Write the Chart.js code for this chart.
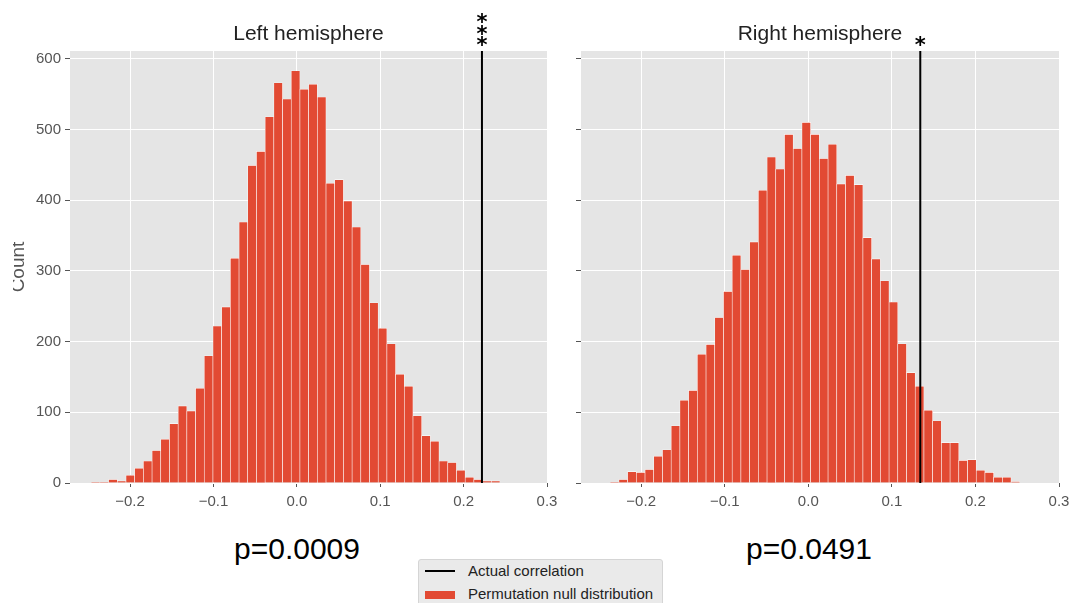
<!DOCTYPE html>
<html>
<head>
<meta charset="utf-8">
<script src="https://cdn.jsdelivr.net/npm/chart.js@4.4.1/dist/chart.umd.min.js"></script>
<style>
  body { margin: 0; width: 1070px; height: 603px; overflow: hidden; position: relative; background: #fff;
         font-family: "Liberation Sans", Arial, sans-serif; }
  #leftWrap { position: absolute; left: 13px; top: 0; width: 547px; height: 513px; overflow: hidden; }
  #leftChart { position: absolute; left: -13px; top: 0; }
  #rightChart { position: absolute; left: 560px; top: 0; }
  .pval { position: absolute; top: 533.5px; font-size: 30px; line-height: 30px; color: #000;
          transform: translateX(-50%); white-space: nowrap; }
  #legend { position: absolute; left: 418px; top: 559px; width: 243px; height: 52px; background: #eaeaea;
            border: 1px solid #d5d5d5; border-radius: 3px; font-size: 15px; line-height: 18px; color: #222; }
  #legend .item { position: absolute; white-space: nowrap; }
  #legend .line { position: absolute; left: 6px; top: 10px; width: 30px; height: 2px; background: #000; }
  #legend .patch { position: absolute; left: 6px; top: 31px; width: 30px; height: 8px; background: #E24A33; }
</style>
</head>
<body>
<div id="leftWrap"><canvas id="leftChart" width="560" height="513"></canvas></div>
<canvas id="rightChart" width="510" height="513"></canvas>

<div class="pval" style="left:297px">p=0.0009</div>
<div class="pval" style="left:809px">p=0.0491</div>

<div id="legend">
  <div class="line"></div>
  <div class="item" style="left:49px;top:1.5px">Actual correlation</div>
  <div class="patch"></div>
  <div class="item" style="left:49px;top:25px">Permutation null distribution</div>
</div>

<script>
// histogram counts (bins of equal width)
const binWidth = 0.01043;
const leftBinStart = -0.2466;
const leftCounts = [1, 1, 5, 3, 11, 21, 31, 46, 62, 84, 109, 102, 134, 180, 222, 249, 318, 369, 449, 469,
  518, 566, 543, 583, 557, 564, 546, 424, 429, 399, 362, 309, 255, 219, 197, 154, 137, 95, 67, 59,
  31, 29, 18, 8, 5, 3, 3];
const rightBinStart = -0.2371;
const rightCounts = [1, 5, 16, 15, 19, 38, 47, 81, 117, 131, 182, 196, 234, 271, 322, 302, 341, 414, 461, 444,
  493, 473, 510, 493, 459, 479, 423, 435, 422, 347, 317, 286, 256, 197, 156, 137, 103, 88, 57, 57,
  32, 33, 18, 15, 8, 8, 2];

const leftActual = 0.222;
const rightActual = 0.134;

const xTicks = [-0.2, -0.1, 0.0, 0.1, 0.2, 0.3];
const yTicks = [0, 100, 200, 300, 400, 500, 600];
const xMin = -0.272, xMax = 0.3;
const yMax = 611;

Chart.defaults.font.family = '"Liberation Sans", Arial, sans-serif';

const plotBg = {
  id: 'plotBg',
  beforeDraw(chart) {
    const { ctx, chartArea: a } = chart;
    ctx.save();
    ctx.fillStyle = '#E5E5E5';
    ctx.fillRect(a.left, a.top, a.right - a.left, a.bottom - a.top);
    ctx.restore();
  }
};

// significance stars above the actual-correlation line
const stars = {
  id: 'stars',
  afterDraw(chart, args, opts) {
    const { ctx, chartArea, scales } = chart;
    const x = scales.x.getPixelForValue(opts.value);
    ctx.save();
    ctx.font = 'bold 21px "DejaVu Sans"';
    ctx.fillStyle = '#000';
    ctx.textAlign = 'center';
    const m = ctx.measureText('*');
    const shift = (m.actualBoundingBoxAscent - m.actualBoundingBoxDescent) / 2;
    opts.offsets.forEach(dy => ctx.fillText('*', x, chartArea.top + dy + shift));
    ctx.restore();
  }
};

function fmtX(v) {
  const s = Math.abs(v).toFixed(1);
  return v < -1e-9 ? '\u2212' + s : s;
}

function makeChart(id, counts, binStart, actual, title, starOffsets, showY, yWidth, padRight) {
  const bars = counts.map((c, i) => ({ x: binStart + (i + 0.5) * binWidth, y: c }));
  return new Chart(document.getElementById(id), {
    type: 'bar',
    data: {
      datasets: [
        {
          type: 'line',
          label: 'Actual correlation',
          data: [{ x: actual, y: 0 }, { x: actual, y: yMax }],
          borderColor: '#000',
          borderWidth: 2,
          pointRadius: 0,
          order: 0
        },
        {
          type: 'bar',
          label: 'Permutation null distribution',
          data: bars,
          backgroundColor: '#E24A33',
          borderColor: '#fff',
          borderWidth: 0.6,
          barPercentage: 1,
          categoryPercentage: 1,
          order: 1
        }
      ]
    },
    options: {
      responsive: false,
      animation: false,
      devicePixelRatio: 1,
      layout: { padding: { left: 0, right: padRight, top: 0, bottom: 0 } },
      plugins: {
        legend: { display: false },
        tooltip: { enabled: false },
        title: {
          display: true,
          text: title,
          color: '#222',
          fullSize: false,
          font: { size: 21, weight: 'normal' },
          padding: { top: 21.5, bottom: 4.3 }
        },
        stars: { value: actual, offsets: starOffsets }
      },
      scales: {
        x: {
          type: 'linear',
          min: xMin,
          max: xMax,
          offset: false,
          afterBuildTicks: s => { s.ticks = xTicks.map(v => ({ value: v })); },
          afterFit: s => { s.height = 30; s.paddingLeft = 0; s.paddingRight = 0; },
          grid: { offset: false, color: '#fff', lineWidth: 1, tickColor: '#555', tickLength: 4 },
          border: { display: false },
          ticks: { color: '#555', font: { size: 15 }, padding: 6, maxRotation: 0, autoSkip: false, callback: fmtX }
        },
        y: {
          min: 0,
          max: yMax,
          afterBuildTicks: s => { s.ticks = yTicks.map(v => ({ value: v })); },
          afterFit: s => { s.width = yWidth; },
          grid: { color: '#fff', lineWidth: 1, tickColor: '#555', tickLength: 5 },
          border: { display: false },
          ticks: { color: '#555', font: { size: 15 }, padding: 4, autoSkip: false,
                   callback: showY ? (v => String(v)) : (() => '') },
          title: {
            display: showY,
            text: 'Count',
            color: '#555',
            font: { size: 19 },
            padding: { top: 7, bottom: 0 }
          }
        }
      }
    },
    plugins: [plotBg, stars]
  });
}

makeChart('leftChart', leftCounts, leftBinStart, leftActual, 'Left hemisphere', [-33, -21.5, -10], true, 70, 13);
makeChart('rightChart', rightCounts, rightBinStart, rightActual, 'Right hemisphere', [-10], false, 21, 11);
</script>
</body>
</html>
